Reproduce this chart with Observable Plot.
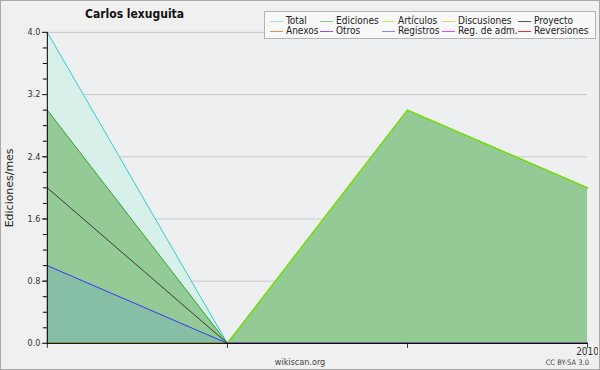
<!DOCTYPE html>
<html><head><meta charset="utf-8">
<script src="https://cdn.jsdelivr.net/npm/d3@7"></script>
<script src="https://cdn.jsdelivr.net/npm/@observablehq/plot@0.6"></script>
<style>
body{margin:0;background:#f0f0f0;}
#wrap{position:relative;width:600px;height:370px;box-sizing:border-box;border:1px solid #a8a8a8;background:#f0f0f0;font-family:"DejaVu Sans Condensed","DejaVu Sans",sans-serif;overflow:hidden;color:#222}
#chart svg{position:absolute;left:-1px;top:-1px;}
#title{position:absolute;left:84px;top:6px;font-weight:bold;font-size:12px;color:#111;}
#legend{position:absolute;left:263px;top:10px;width:332px;height:28px;box-sizing:border-box;border:1px solid #b4b4b4;background:#f8f8f8;}
.li{position:absolute;font-size:10px;line-height:10px;white-space:nowrap;color:#222}
.li span.sw{position:absolute;top:5px;height:1px;width:13px;}
#wk{position:absolute;left:0;width:598px;text-align:center;top:356px;font-size:9px;color:#444}
#cc{position:absolute;right:10px;top:357px;font-size:7.5px;color:#444}
</style>
</head><body>
<div id="wrap">
  <div id="chart"></div>
  <div id="title"></div>
  <div id="legend"></div>
  <div id="wk">wikiscan.org</div>
  <div id="cc">CC BY-SA 3.0</div>
</div>
<script>
// ---- data ----
const chartTitle = "Carlos lexuguita";
const yLabel = "Ediciones/mes";
const xTickLabels = ["", "", "", "2010"];
const xIndex = [0, 1, 2, 3];
const total       = [4, 0, 3, 2];
const ediciones   = [3, 0, 3, 2];
const articulos   = [0, 0, 3, 2];
const discusiones = [0, 0, 0, 0];
const proyecto    = [2, 0, 0, 0];
const anexos      = [0, 0, 0, 0];
const otros       = [0, 0, 0, 0];
const registros   = [1, 0, 0, 0];
const regAdm      = [0, 0, 0, 0];
const reversiones = [0, 0, 0, 0];
const legendNames = ["Total","Ediciones","Artículos","Discusiones","Proyecto","Anexos","Otros","Registros","Reg. de adm.","Reversiones"];
const legendColors = ["#a6e2e2","#86c686","#c6ee5a","#f0d262","#555555","#ee8a52","#8a52e0","#8a8af0","#d052e2","#e03232"];
const yMajor = [0, 0.8, 1.6, 2.4, 3.2, 4.0];
const yMinor = d3.range(0, 4.01, 0.2);

const rows = (arr) => xIndex.map((x, i) => ({x, y: arr[i]}));

const lineSeries = [
  [discusiones, "#f0d262", 1], [anexos, "#ee8a52", 1], [otros, "#8a52e0", 1],
  [regAdm, "#d052e2", 1], [reversiones, "#e03232", 1],
  [total, "#33cccc", 1], [ediciones, "#2f9f2f", 1], [articulos, "#80e400", 1.4],
  [proyecto, "#3a3a3a", 1], [registros, "#3838f0", 1]
];

const chart = Plot.plot({
  width: 600, height: 370,
  marginLeft: 47, marginRight: 11, marginTop: 32, marginBottom: 26,
  style: {background: "transparent", fontFamily: "'DejaVu Sans Condensed','DejaVu Sans',sans-serif", color: "#333"},
  x: {domain: [0, 3], axis: null},
  y: {domain: [0, 4], axis: null},
  marks: [
    Plot.frame({fill: "#eeeff1", stroke: null}),
    Plot.gridY(yMajor.slice(1), {stroke: "#cacaca", strokeOpacity: 1}),
    Plot.areaY(rows(total), {x: "x", y: "y", fill: "#d8f0ea"}),
    Plot.areaY(rows(ediciones), {x: "x", y: "y", fill: "#93ca96"}),
    Plot.areaY(rows(registros), {x: "x", y: "y", fill: "#87bfa6"}),
    ...lineSeries.map(([arr, c, w]) => Plot.lineY(rows(arr), {x: "x", y: "y", stroke: c, strokeWidth: w})),
    Plot.axisY(yMinor, {tickSize: 4, tickFormat: null, text: null, label: null, stroke: "#000"}),
    Plot.axisY(yMajor, {tickSize: 5, tickPadding: 2, tickFormat: d3.format(".1f"), fontSize: 9, fill: "#333",
      label: yLabel, labelAnchor: "center", labelOffset: 42, labelArrow: "none"}),
    Plot.axisX(xIndex, {tickSize: 5, tickPadding: 0, tickFormat: (d) => xTickLabels[d], fontSize: 10, fill: "#333", label: null}),
    Plot.ruleX([0], {stroke: "#000"}),
    Plot.ruleY([0], {stroke: "#000"})
  ]
});
document.getElementById("chart").appendChild(chart);
chart.querySelectorAll("g[aria-label='y-axis label']").forEach(e => {
  e.setAttribute("font-size", "11");
  e.setAttribute("font-family", "'DejaVu Sans',sans-serif");
  e.setAttribute("fill", "#222");
});

document.getElementById("title").textContent = chartTitle;
const textLefts = [284, 334, 396, 456, 532];
const lg = document.getElementById("legend");
legendNames.forEach((n, i) => {
  const col = i % 5, row = Math.floor(i / 5);
  const d = document.createElement("div");
  d.className = "li";
  d.style.left = (textLefts[col] - 263) + "px";
  d.style.top = (4 + row * 10) + "px";
  const sw = document.createElement("span");
  sw.className = "sw";
  sw.style.left = "-16px";
  sw.style.background = legendColors[i];
  d.appendChild(sw);
  d.appendChild(document.createTextNode(n));
  lg.appendChild(d);
});
</script>
</body></html>
